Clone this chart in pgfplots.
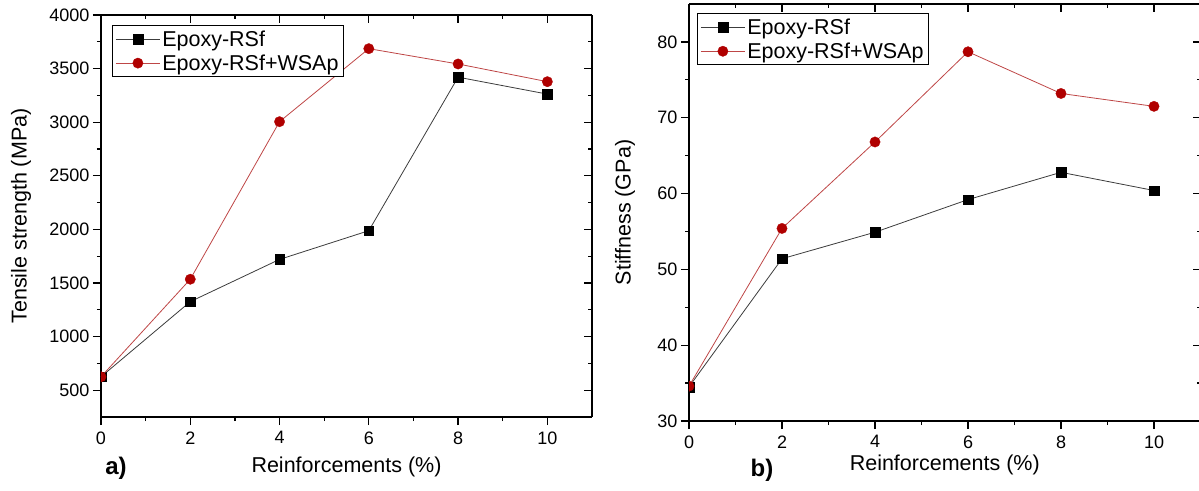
\documentclass[border=0pt]{standalone}
\usepackage{fontspec}
\setmainfont{Liberation Sans}
\usepackage{pgfplots}
\pgfplotsset{compat=1.18}

\definecolor{redline}{RGB}{190,70,70}
\definecolor{redmark}{RGB}{176,0,0}
\definecolor{blkline}{RGB}{60,60,60}

\pgfplotsset{
  panel/.style={
    scale only axis,
    xmin=0, xmax=11, xtick={0,2,...,10},
    minor x tick num=1, minor y tick num=1,
    axis line style={line width=1.5pt},
    major tick length=8pt, minor tick length=4pt,
    tick style={line width=1.2pt, black},
    tick label style={font=\fontsize{18}{21}\selectfont},
    /pgf/number format/assume math mode=true,
    /pgf/number format/1000 sep={},
    label style={font=\fontsize{21.5}{25}\selectfont},
  },
  mirror/.style={panel, axis x line*=top, axis y line*=right,
    tick align=inside, xticklabels={}, yticklabels={}},
  main/.style={panel, axis x line*=bottom, axis y line*=left,
    tick align=outside, clip marker paths=true,
    xticklabel style={yshift=-3pt},
    legend cell align=left,
    legend image code/.code={\draw[mark repeat=2,mark phase=2,##1]
      plot coordinates {(0pt,0pt) (22pt,0pt) (44pt,0pt)};},
  },
  rsf/.style={blkline, line width=0.8pt, mark=square*, mark size=4.8pt,
    mark options={fill=black, draw=black, line width=0.3pt}},
  wsa/.style={redline, line width=0.8pt, mark=*, mark size=5.2pt,
    mark options={fill=redmark, draw=redmark, line width=0.3pt}},
}

\begin{document}
\begin{tikzpicture}
\useasboundingbox (0,0) rectangle (1199pt,490pt);
\clip (0,0) rectangle (1199pt,490pt);

% a) tensile strength
\begin{axis}[mirror, at={(101pt,73pt)}, anchor=south west,
  width=491pt, height=402pt, ymin=250, ymax=4000, ytick={500,1000,...,4000}]
\end{axis}
\begin{axis}[main, at={(101pt,73pt)}, anchor=south west,
  width=491pt, height=402pt, ymin=250, ymax=4000, ytick={500,1000,...,4000},
  xlabel={Reinforcements (\%)}, ylabel={Tensile strength (MPa)},
  xlabel style={at={(axis description cs:0.5,-0.124)}, anchor=center},
  ylabel style={at={(axis description cs:-0.163,0.5)}, anchor=center},
  legend style={at={(0.0224,0.975)}, anchor=north west, draw=black,
    line width=1pt, font=\fontsize{21.5}{25}\selectfont, inner sep=3pt, row sep=3pt}]
\addplot[rsf] coordinates {(0,625) (2,1326) (4,1720) (6,1988) (8,3420) (10,3262)};
\addlegendentry{Epoxy-RSf}
\addplot[wsa] coordinates {(0,625) (2,1535) (4,3005) (6,3686) (8,3543) (10,3378)};
\addlegendentry{Epoxy-RSf+WSAp}
\end{axis}
\node[font=\bfseries\fontsize{24}{28}\selectfont] at (116pt,22pt) {a)};

% b) stiffness
\begin{axis}[mirror, at={(689pt,69pt)}, anchor=south west,
  width=511.5pt, height=417pt, ymin=30, ymax=85, ytick={30,40,...,80}]
\end{axis}
\begin{axis}[main, at={(689pt,69pt)}, anchor=south west,
  width=511.5pt, height=417pt, ymin=30, ymax=85, ytick={30,40,...,80},
  xlabel={Reinforcements (\%)}, ylabel={Stiffness (GPa)},
  xlabel style={at={(axis description cs:0.5,-0.1055)}, anchor=center},
  ylabel style={at={(axis description cs:-0.125,0.5)}, anchor=center},
  legend style={at={(0.0156,0.978)}, anchor=north west, draw=black,
    line width=1pt, font=\fontsize{21.5}{25}\selectfont, inner sep=3pt, row sep=3pt}]
\addplot[rsf] coordinates {(0,34.5) (2,51.4) (4,54.9) (6,59.2) (8,62.8) (10,60.4)};
\addlegendentry{Epoxy-RSf}
\addplot[wsa] coordinates {(0,34.6) (2,55.4) (4,66.8) (6,78.7) (8,73.2) (10,71.5)};
\addlegendentry{Epoxy-RSf+WSAp}
\end{axis}
\node[font=\bfseries\fontsize{24}{28}\selectfont] at (762pt,20pt) {b)};
\end{tikzpicture}
\end{document}
